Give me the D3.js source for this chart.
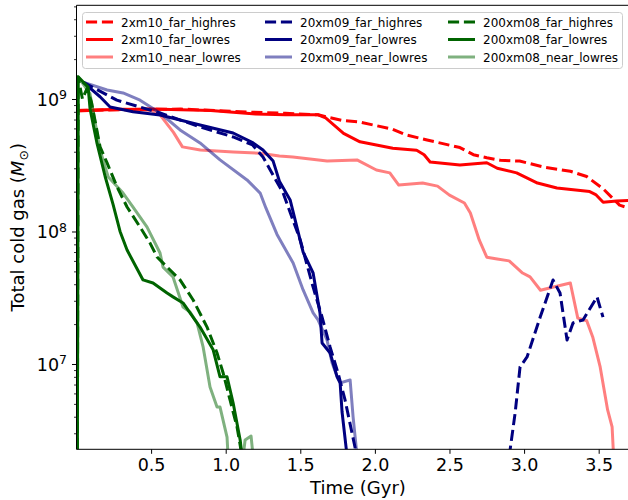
<!DOCTYPE html>
<html>
<head>
<meta charset="utf-8">
<script src="https://cdn.jsdelivr.net/npm/d3@7"></script>
<style>
  html, body { margin: 0; padding: 0; background: #fff; }
  svg { display: block; font-family: "DejaVu Sans", sans-serif; }
</style>
</head>
<body>
<svg id="chart" width="628" height="500"></svg>
<script>
// ---------------- data (time in Gyr, cold gas mass in Msun) ----------------
const names = ["2xm10_far_highres","2xm10_far_lowres","2xm10_near_lowres",
               "20xm09_far_highres","20xm09_far_lowres","20xm09_near_lowres",
               "200xm08_far_highres","200xm08_far_lowres","200xm08_near_lowres"];

const m10_far_highres = [[0,8.2e8],[0.3,8.3e8],[0.7,8.4e8],[1.1,8.0e8],[1.4,7.8e8],[1.62,7.6e8],
  [1.68,7.3e8],[1.78,6.9e8],[1.9,6.7e8],[2.12,5.9e8],[2.2,5.4e8],[2.35,4.9e8],[2.57,4.3e8],
  [2.66,3.8e8],[2.75,3.6e8],[2.84,3.45e8],[2.97,3.4e8],[3.14,3.05e8],[3.31,2.85e8],[3.42,2.6e8],
  [3.53,2.1e8],[3.59,1.8e8],[3.64,1.58e8],[3.72,1.48e8]];
const m10_far_lowres = [[0,8.1e8],[0.2,8.3e8],[0.5,8.4e8],[0.9,8.2e8],[1.2,7.7e8],[1.4,7.6e8],
  [1.62,7.6e8],[1.67,7.2e8],[1.73,6.3e8],[1.79,5.5e8],[1.9,4.75e8],[2.12,4.25e8],[2.28,4.1e8],
  [2.33,3.8e8],[2.37,3.35e8],[2.57,3.18e8],[2.75,3.3e8],[2.82,3.0e8],[2.95,2.77e8],[3.09,2.32e8],
  [3.22,2.13e8],[3.44,2.0e8],[3.48,1.9e8],[3.53,1.66e8],[3.62,1.7e8],[3.72,1.72e8]];
const m10_near_lowres = [[0,8.2e8],[0.3,8.4e8],[0.5,8.2e8],[0.56,7.6e8],[0.65,5.6e8],[0.71,4.35e8],
  [0.83,4.12e8],[1.05,3.98e8],[1.23,3.9e8],[1.36,3.72e8],[1.45,3.65e8],[1.68,3.4e8],[1.88,3.47e8],
  [2.01,2.91e8],[2.10,2.77e8],[2.16,2.24e8],[2.32,2.32e8],[2.42,2.2e8],[2.50,1.88e8],[2.60,1.64e8],
  [2.64,1.38e8],[2.70,8.6e7],[2.75,6.4e7],[2.82,6.2e7],[2.9,6.0e7],[2.99,4.86e7],[3.04,4.54e7],
  [3.11,3.6e7],[3.19,3.8e7],[3.31,4.09e7],[3.36,2.22e7],[3.42,2.12e7],[3.46,1.6e7],[3.51,9.5e6],
  [3.56,4.5e6],[3.59,3.35e6],[3.60,2.0e6]];

const m09_far_highres = [[0.044,1.34e9],[0.27,9.8e8],[0.56,7.84e8],[0.83,6.15e8],[1.05,5.17e8],
  [1.18,4.5e8],[1.25,3.65e8],[1.385,1.95e8],[1.50,8.6e7],[1.586,3.8e7],[1.646,2.26e7],[1.70,1.34e7],
  [1.753,8.55e6],[1.80,5.35e6],[1.88,2.0e6],[2.4,null],
  [2.90,2.0e6],[2.94,4.27e6],[2.973,9.5e6],[3.02,1.13e7],[3.108,2.26e7],[3.194,4.31e7],
  [3.241,3.43e7],[3.288,1.52e7],[3.328,2.04e7],[3.395,2.15e7],[3.489,3.21e7],[3.509,2.69e7],[3.529,2.26e7]];
const m09_far_lowres = [[0.044,1.34e9],[0.158,1.04e9],[0.225,8.7e8],[0.379,8.0e8],[0.56,7.57e8],
  [0.828,6.36e8],[1.05,5.54e8],[1.184,4.66e8],[1.25,4.12e8],[1.318,3.4e8],[1.36,2.4e8],[1.432,1.73e8],
  [1.519,7.0e7],[1.586,4.86e7],[1.632,2.43e7],[1.646,1.44e7],[1.70,1.21e7],[1.747,8.0e6],
  [1.767,7.2e6],[1.78,4.34e6],[1.814,2.0e6]];
const m09_near_lowres = [[0.044,1.34e9],[0.205,1.17e9],[0.312,1.11e9],[0.426,9.8e8],[0.56,7.84e8],
  [0.694,5.84e8],[0.828,4.66e8],[0.962,3.47e8],[1.143,2.45e8],[1.231,1.95e8],[1.27,1.5e8],
  [1.344,9.5e7],[1.452,5.78e7],[1.519,3.62e7],[1.586,2.43e7],[1.619,2.15e7],[1.679,1.52e7],
  [1.713,1.02e7],[1.747,8.0e6],[1.767,7.2e6],[1.834,7.57e6],[1.854,3.98e6],[1.881,2.0e6]];

const m08_far_highres = [[0,1e3],[0.011,1.45e9],[0.04,1.0e9],[0.07,1.2e9],[0.10,9.5e8],
  [0.158,4.35e8],[0.205,3.29e8],[0.272,2.17e8],[0.339,1.53e8],[0.426,1.08e8],[0.493,8.18e7],
  [0.54,6.42e7],[0.607,5.39e7],[0.694,4.31e7],[0.782,3.04e7],[0.875,1.9e7],[0.942,1.21e7],
  [0.983,8.55e6],[1.029,5.35e6],[1.076,3.35e6],[1.11,2.0e6]];
const m08_far_lowres = [[0,1e3],[0.011,1.47e9],[0.078,1.23e9],[0.091,8.4e8],[0.138,4.6e8],
  [0.192,2.6e8],[0.245,1.6e8],[0.292,1.0e8],[0.339,7.24e7],[0.446,4.31e7],[0.513,4.09e7],
  [0.607,3.43e7],[0.647,3.21e7],[0.714,2.89e7],[0.828,1.9e7],[0.916,1.28e7],[0.962,8.0e6],
  [1.009,8.0e6],[1.05,5.08e6],[1.097,2.67e6],[1.11,2.0e6]];
const m08_near_lowres = [[0,1e3],[0.011,1.47e9],[0.09,1.1e9],[0.158,4.12e8],[0.212,2.59e8],
  [0.312,1.95e8],[0.379,1.53e8],[0.473,1.08e8],[0.56,6.88e7],[0.58,5.39e7],[0.647,4.54e7],
  [0.714,2.69e7],[0.761,2.47e7],[0.808,2.04e7],[0.849,1.34e7],[0.895,6.7e6],[0.942,4.73e6],
  [0.962,4.73e6],[1.009,2.81e6],[1.016,2.0e6],[1.06,null],
  [1.117,2.0e6],[1.13,2.67e6],[1.17,2.86e6],[1.184,2.0e6]];

const seriesData = [m10_far_highres, m10_far_lowres, m10_near_lowres,
                    m09_far_highres, m09_far_lowres, m09_near_lowres,
                    m08_far_highres, m08_far_lowres, m08_near_lowres];
const colors = ["#ff0000","#ff0000","#ff0000","#000080","#000080","#000080","#006400","#006400","#006400"];
const opacities = [1,1,0.5,1,1,0.5,1,1,0.5];
const dashed = [true,false,false,true,false,false,true,false,false];

const xTicks = [0.5,1.0,1.5,2.0,2.5,3.0,3.5];
const yTickExps = [7,8,9];

// ---------------- layout ----------------
const svg = d3.select("#chart");
const pL = 76.5, pR = 631.5, pT = 5.3, pB = 449.3;
const x = d3.scaleLinear().domain([0, 3.72]).range([pL, pR]);
const y = d3.scaleLog().domain([2.271e6, 5.095e9]).range([pB, pT]);

svg.append("defs").append("clipPath").attr("id","clip")
  .append("rect").attr("x",pL).attr("y",pT).attr("width",pR-pL).attr("height",pB-pT);

const line = d3.line()
  .defined(d => d[1] != null)
  .x(d => x(d[0]))
  .y(d => y(d[1]));

const g = svg.append("g").attr("clip-path","url(#clip)");
seriesData.forEach((s, i) => {
  g.append("path").datum(s)
    .attr("d", line)
    .attr("fill","none")
    .attr("stroke", colors[i])
    .attr("stroke-opacity", opacities[i])
    .attr("stroke-width", 3)
    .attr("stroke-linejoin","round")
    .attr("stroke-dasharray", dashed[i] ? "11.1,4.8" : null);
});

// axes
const xAxis = d3.axisBottom(x).tickValues(xTicks).tickFormat(d3.format(".1f")).tickSize(4.5).tickPadding(5);
const gx = svg.append("g").attr("transform",`translate(0,${pB})`).call(xAxis);
gx.select(".domain").remove();
gx.selectAll(".tick line").attr("stroke","#000").attr("stroke-width",1);
gx.selectAll(".tick text").attr("font-size","17.5px").attr("fill","#000")
  .attr("font-family","DejaVu Sans, sans-serif");

// y axis: major & minor ticks
const minorVals = [];
for (let e = 6; e <= 9; e++) for (let m = 2; m <= 9; m++) {
  const v = m * Math.pow(10, e);
  if (v >= y.domain()[0] && v <= y.domain()[1]) minorVals.push(v);
}
const yMinor = d3.axisLeft(y).tickValues(minorVals).tickSize(2.5).tickFormat("");
const gym = svg.append("g").attr("transform",`translate(${pL},0)`).call(yMinor);
gym.select(".domain").remove();
gym.selectAll(".tick line").attr("stroke","#000").attr("stroke-width",0.8);

const yMajor = d3.axisLeft(y).tickValues(yTickExps.map(e => Math.pow(10, e))).tickSize(4.5).tickFormat("");
const gy = svg.append("g").attr("transform",`translate(${pL},0)`).call(yMajor);
gy.select(".domain").remove();
gy.selectAll(".tick line").attr("stroke","#000").attr("stroke-width",1);
yTickExps.forEach(e => {
  const t = svg.append("text")
    .attr("x", pL - 9.5).attr("y", y(Math.pow(10, e)) + 7)
    .attr("text-anchor","end").attr("font-size","17.5px").attr("fill","#000");
  t.append("tspan").text("10");
  t.append("tspan").attr("dy", -6.5).attr("font-size","12.5px").text(String(e));
});

// spines
svg.append("line").attr("x1",pL).attr("x2",pL).attr("y1",pT).attr("y2",pB)
  .attr("stroke","#000").attr("stroke-width",1);
svg.append("line").attr("x1",pL).attr("x2",pR).attr("y1",pB).attr("y2",pB)
  .attr("stroke","#000").attr("stroke-width",1);
svg.append("line").attr("x1",pL).attr("x2",pR).attr("y1",pT).attr("y2",pT)
  .attr("stroke","#000").attr("stroke-width",1);

// axis labels
svg.append("text").attr("x",358).attr("y",494).attr("text-anchor","middle")
  .attr("font-size","18px").attr("fill","#000").text("Time (Gyr)");
const yl = svg.append("text").attr("transform",`translate(24,${(pT+pB)/2}) rotate(-90)`)
  .attr("text-anchor","middle").attr("font-size","18px").attr("fill","#000");
yl.append("tspan").text("Total cold gas (");
yl.append("tspan").attr("font-style","italic").text("M");
yl.append("tspan").attr("font-size","12.5px").attr("dy",4).text("⊙");
yl.append("tspan").attr("dy",-4).text(")");

// legend
const lg = svg.append("g");
lg.append("rect").attr("x",82.5).attr("y",12.5).attr("width",540).attr("height",56)
  .attr("rx",3).attr("fill","#fff").attr("fill-opacity",0.8).attr("stroke","#cccccc").attr("stroke-width",1);
const colLineX = [86, 265, 448];
const rowY = [22, 39.5, 57];
names.forEach((n, i) => {
  const c = Math.floor(i / 3), r = i % 3;
  lg.append("line").attr("x1",colLineX[c]).attr("x2",colLineX[c]+27)
    .attr("y1",rowY[r]).attr("y2",rowY[r])
    .attr("stroke",colors[i]).attr("stroke-opacity",opacities[i]).attr("stroke-width",3)
    .attr("stroke-dasharray", dashed[i] ? "11.1,4.8" : null);
  lg.append("text").attr("x",colLineX[c]+35).attr("y",rowY[r]+4.5)
    .attr("font-size","12px").attr("fill","#000").text(n);
});
</script>
</body>
</html>
